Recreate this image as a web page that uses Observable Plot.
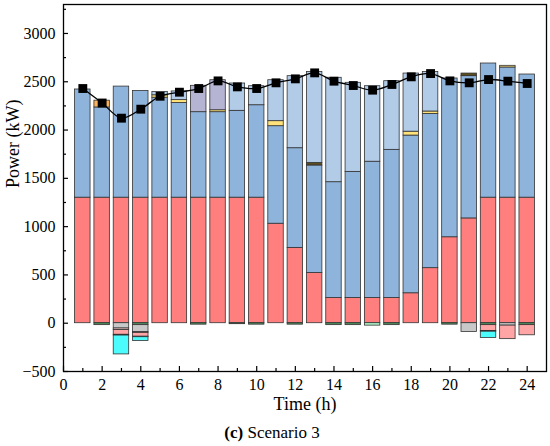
<!DOCTYPE html>
<html><head><meta charset="utf-8">
<script src="https://cdn.jsdelivr.net/npm/d3@7"></script>
<script src="https://cdn.jsdelivr.net/npm/@observablehq/plot@0.6"></script>
<style>
body{margin:0;background:#fff;}
#cap{width:544px;padding-right:6px;text-align:center;font-family:"Liberation Serif",serif;font-size:17px;line-height:26px;}
#chart svg, #chart svg text{font-family:"Liberation Serif","Times New Roman",serif !important;font-variant:normal !important;}
</style></head><body>
<div id="chart"></div>
<div id="cap"><b>(c)</b> Scenario 3</div>
<script>
const hours = d3.range(1, 25);
const grid      = [1300,1300,1300,1300,1300,1300,1300,1300,1300,1300,1030,780,520,260,260,260,260,310,570,890,1085,1300,1300,1300];
const medBlue   = [1120,934,1150,1105,1035,980,885,885,899,957,1010,1032,1113,1200,1307,1412,1535,1633,1597,1644,1473,1389,1348,1275];
const olive     = [0,0,0,0,0,0,0,0,0,0,0,0,27,0,0,0,0,0,0,0,27,0,0,0];
const yellow    = [0,0,0,0,25,30,0,20,0,0,52,0,0,0,0,0,0,40,25,0,0,0,17,0];
const orange    = [0,70,0,0,0,0,0,0,0,0,0,0,0,0,0,0,0,0,0,0,0,0,0,0];
const purple    = [0,0,0,0,0,0,273,311,0,0,0,0,0,0,0,0,0,0,0,0,0,0,0,0];
const lightBlue = [0,0,0,0,35,90,0,0,283,197,424,746,942,1081,922,782,711,602,410,0,0,0,0,0];
const green     = [0,-20,0,-20,0,0,-15,0,-10,-15,0,-15,0,-20,-20,0,-20,0,0,-15,0,-20,0,-20];
const mint      = [0,0,0,0,0,0,0,0,0,0,0,0,0,0,0,-25,0,0,0,0,0,0,0,0];
const gray      = [0,0,-55,-70,0,0,0,0,0,0,0,0,0,0,0,0,0,0,0,0,-90,0,-25,0];
const lightPink = [0,0,-15,-10,0,0,0,0,0,0,0,0,0,0,0,0,0,0,0,0,0,0,0,0];
const pink      = [0,0,-50,-40,0,0,0,0,0,0,0,0,0,0,0,0,0,0,0,0,0,-60,-140,-105];
const dark      = [0,0,-8,-5,0,0,0,0,0,0,0,0,0,0,0,0,0,0,0,0,0,-8,0,0];
const cyan      = [0,0,-195,-40,0,0,0,0,0,0,0,0,0,0,0,0,0,0,0,0,0,-65,0,0];
const load      = [2430,2280,2123,2216,2350,2392,2430,2509,2447,2430,2489,2530,2592,2506,2461,2413,2472,2551,2585,2509,2489,2523,2506,2482];
const xTicks = [0,2,4,6,8,10,12,14,16,18,20,22,24];
const yTicks = [-500,0,500,1000,1500,2000,2500,3000];

const series = [
  {name:"grid", values:grid, color:"#ff7f7f"},
  {name:"medBlue", values:medBlue, color:"#8fb4dc"},
  {name:"olive", values:olive, color:"#5c4d1f"},
  {name:"yellow", values:yellow, color:"#ffe37a"},
  {name:"orange", values:orange, color:"#f9b25d"},
  {name:"purple", values:purple, color:"#b5b4d3"},
  {name:"lightBlue", values:lightBlue, color:"#b2cce8"},
  {name:"green", values:green, color:"#4f8f5f"},
  {name:"mint", values:mint, color:"#b0f5c8"},
  {name:"gray", values:gray, color:"#c8c8c8"},
  {name:"lightPink", values:lightPink, color:"#ffd5d5"},
  {name:"pink", values:pink, color:"#ffa5a5"},
  {name:"dark", values:dark, color:"#1a1a1a"},
  {name:"cyan", values:cyan, color:"#4cfcfc"}
];

const rects = [];
hours.forEach((h, i) => {
  let pos = 0, neg = 0;
  for (const s of series) {
    const v = s.values[i];
    if (v > 0) { rects.push({hour:h, y1:pos, y2:pos+v, name:s.name}); pos += v; }
    else if (v < 0) { rects.push({hour:h, y1:neg, y2:neg+v, name:s.name}); neg += v; }
  }
});
const loadData = hours.map((h,i)=>({hour:h, load:load[i]}));
const fmt = d => d < 0 ? "\u2212" + Math.abs(d) : String(d);
const minorX = d3.range(1, 25, 2);
const minorY = d3.range(-250, 3300, 500);
const serif = "'Liberation Serif', 'Times New Roman', serif";

const chart = Plot.plot({
  width: 550, height: 420,
  marginLeft: 63, marginRight: 4, marginTop: 4, marginBottom: 49,
  style: {fontFamily: serif, fontSize: "15px", color: "#000", background: "#fff"},
  x: {domain: [0, 25]},
  y: {domain: [-500, 3300]},
  color: {domain: series.map(s=>s.name), range: series.map(s=>s.color)},
  marks: [
    Plot.rect(rects, {x1: d=>d.hour-0.4, x2: d=>d.hour+0.4, y1:"y1", y2:"y2", fill:"name", stroke:"#333", strokeWidth:0.8}),
    Plot.line(loadData, {x:"hour", y:"load", stroke:"#000", strokeWidth:1.3, curve:"catmull-rom"}),
    Plot.dot(loadData, {x:"hour", y:"load", symbol:"square", fill:"#000", r:5}),
    Plot.frame({stroke:"#000", strokeWidth:1.3}),
    Plot.axisX(xTicks, {tickSize:5, dy:-5, text:null, label:null, strokeWidth:1.2}),
    Plot.axisX(minorX, {tickSize:3, dy:-3, text:null, label:null, strokeWidth:1.2}),
    Plot.axisX(xTicks, {tickSize:0, tickPadding:7, tickFormat:fmt, fontSize:16, fontFamily:serif, label:null}),
    Plot.axisY(yTicks, {tickSize:5, dx:5, text:null, label:null, strokeWidth:1.2}),
    Plot.axisY(minorY, {tickSize:3, dx:3, text:null, label:null, strokeWidth:1.2}),
    Plot.axisY(yTicks, {tickSize:0, tickPadding:8, tickFormat:fmt, fontSize:16, fontFamily:serif, label:null}),
    Plot.text(["Time (h)"], {frameAnchor:"bottom", dy:38, fontSize:18, fontFamily:serif}),
    Plot.text(["Power (kW)"], {frameAnchor:"left", dx:-50, rotate:-90, fontSize:18, fontFamily:serif})
  ]
});
document.getElementById("chart").appendChild(chart);
</script>
</body></html>
